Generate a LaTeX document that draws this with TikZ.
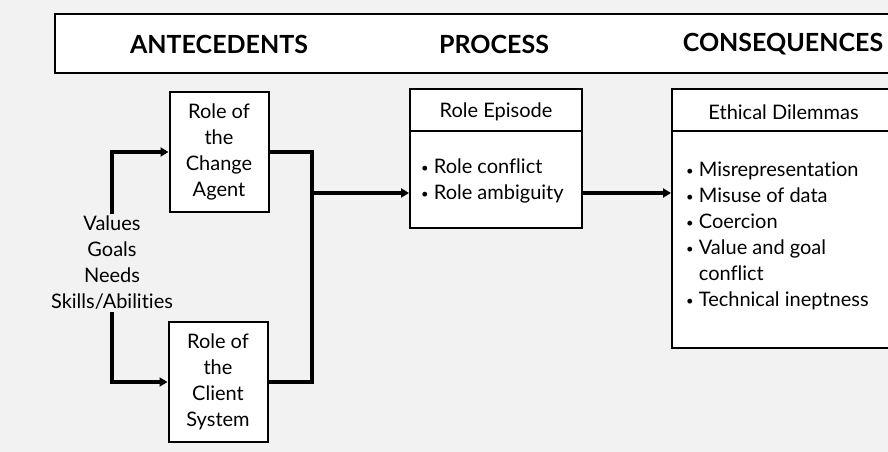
\documentclass[tikz,border=0pt]{standalone}
\usepackage{fontspec}
\setmainfont{Lato}[Ligatures=NoCommon]
\usetikzlibrary{arrows.meta,positioning}
\newcommand{\bul}{\raisebox{1.5pt}{\scalebox{0.65}{\textbullet}}\ }

\begin{document}
\begin{tikzpicture}[x=1pt,y=-1pt,
    box/.style={draw, line width=2pt, fill=white, inner sep=0pt},
    conn/.style={line width=3.6pt},
    arr/.style={-{Triangle[length=8pt,width=9pt]}},
    txt/.style={font=\fontsize{20}{26}\selectfont, align=center, inner sep=2pt},
    hd/.style={font=\fontsize{25}{28}\selectfont\bfseries}
    ]
    \fill[black!5] (0,0) rectangle (888,452);
    \useasboundingbox (0,0) rectangle (888,452);
    % header band
    \draw[line width=2.4pt, fill=white] (55,14) rectangle (900,73);
    \node[hd] (ante) at (219,44) {ANTECEDENTS};
    \node[hd] (proc) at (494,44) {PROCESS};
    \node[hd] (cons) at (783,44) {CONSEQUENCES};
    % antecedents
    \node[box, txt, minimum width=99pt, minimum height=120pt] (agent) at (219,152) {Role of\\the\\Change\\Agent};
    \node[box, txt, minimum width=99pt, minimum height=120pt] (client) at (218,382) {Role of\\the\\Client\\System};
    \node[txt] (vals) at (112,263) {Values\\Goals\\Needs\\Skills/Abilities};
    % process
    \node[box, minimum width=172pt, minimum height=139pt] (epi) at (496,158.5) {};
    \node[txt] (epit) at ([yshift=-24pt]epi.north) {Role Episode};
    \draw[line width=2pt] ([yshift=-43pt]epi.north west) -- ([yshift=-43pt]epi.north east);
    \node[txt, align=left, anchor=north west] (epil) at (419,157) {\bul Role conflict\\\bul Role ambiguity};
    % consequences
    \node[box, minimum width=223pt, minimum height=259pt] (eth) at (783.5,218.5) {};
    \node[txt] (etht) at ([yshift=-24pt]eth.north) {Ethical Dilemmas};
    \draw[line width=2pt] ([yshift=-43pt]eth.north west) -- ([yshift=-43pt]eth.north east);
    \node[txt, align=left, anchor=north west] (ethl) at (684,160)
        {\bul Misrepresentation\\\bul Misuse of data\\\bul Coercion\\\bul Value and goal\\\phantom{\bul}conflict\\\bul Technical ineptness};
    % connectors
    \coordinate (j) at (312,193);
    \draw[conn,arr] (vals.north) |- (agent.west);
    \draw[conn,arr] (vals.south) |- (client.west);
    \draw[conn] (agent.east) -| (j);
    \draw[conn] (client.east) -| (j);
    \draw[conn,arr] (j) -- (epi.west |- j);
    \draw[conn,arr] (epi.east |- j) -- (eth.west |- j);
\end{tikzpicture}
\end{document}
